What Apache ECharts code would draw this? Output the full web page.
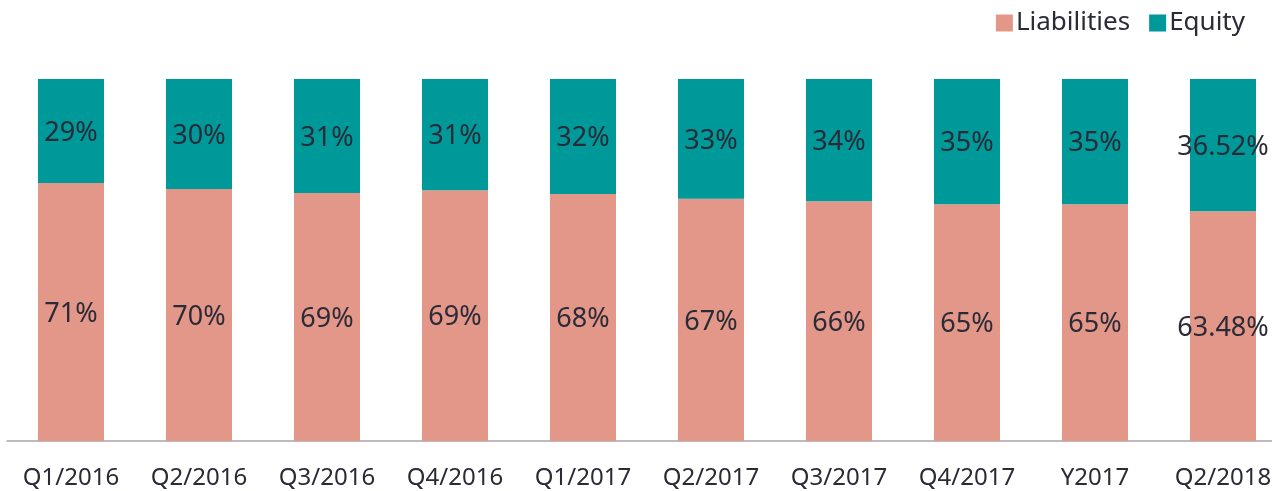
<!DOCTYPE html>
<html>
<head>
<meta charset="utf-8">
<script src="https://cdn.jsdelivr.net/npm/echarts@6/dist/echarts.min.js"></script>
<style>
  html, body { margin: 0; padding: 0; background: #fff; }
  #chart { width: 1272px; height: 491px; }
</style>
</head>
<body>
<div id="chart"></div>
<script>
// categories and values (share of total, %)
const categories = ['Q1/2016', 'Q2/2016', 'Q3/2016', 'Q4/2016', 'Q1/2017', 'Q2/2017', 'Q3/2017', 'Q4/2017', 'Y2017', 'Q2/2018']
const liabilities = [71.3, 69.6, 68.5, 69.3, 68.2, 66.9, 66.2, 65.4, 65.4, 63.48]
const equity = [28.7, 30.4, 31.5, 30.7, 31.8, 33.1, 33.8, 34.6, 34.6, 36.52]
// printed labels
const liabilityLabels = ['71%', '70%', '69%', '69%', '68%', '67%', '66%', '65%', '65%', '63.48%']
const equityLabels = ['29%', '30%', '31%', '31%', '32%', '33%', '34%', '35%', '35%', '36.52%']

const textColor = '#2b2b38'
const font = 'Noto Sans'

const chart = echarts.init(document.getElementById('chart'))

const makeSeries = (name, data, labels, color) => ({
  name,
  type: 'bar',
  stack: 'total',
  data,
  barWidth: 66,
  itemStyle: { color },
  label: {
    show: true,
    position: 'inside',
    offset: [0, 2],
    formatter: (p) => labels[p.dataIndex],
    color: textColor,
    fontFamily: font,
    fontSize: 27
  }
})

chart.setOption({
  backgroundColor: '#fff',
  animation: false,
  legend: {
    right: 22,
    top: 5,
    itemWidth: 17,
    itemHeight: 17,
    itemGap: 19,
    icon: 'rect',
    textStyle: { color: textColor, fontFamily: font, fontSize: 26, padding: [0, 0, 0, -2] },
    data: ['Liabilities', 'Equity']
  },
  grid: { left: 7, right: -15, top: 79, bottom: 50, outerBoundsMode: 'none', containLabel: false },
  xAxis: {
    type: 'category',
    data: categories,
    axisLine: { lineStyle: { color: '#a6a6a6', width: 1.5 } },
    axisTick: { show: false },
    axisLabel: { color: textColor, fontFamily: font, fontSize: 24, margin: 25, interval: 0 }
  },
  yAxis: {
    type: 'value',
    min: 0,
    max: 100,
    show: false
  },
  series: [
    makeSeries('Liabilities', liabilities, liabilityLabels, '#e39788'),
    makeSeries('Equity', equity, equityLabels, '#009999')
  ]
})
</script>
</body>
</html>
